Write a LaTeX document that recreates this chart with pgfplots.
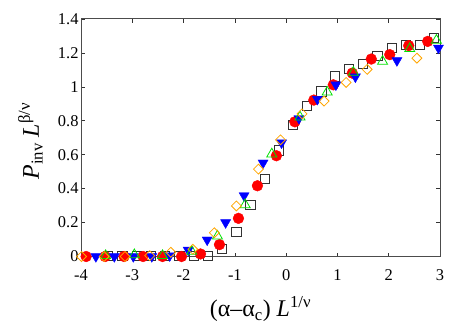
\documentclass[border=0pt]{standalone}
\usepackage{fontspec}
\setmainfont{Liberation Serif}
\usepackage{pgfplots}
\pgfplotsset{compat=1.18}

\definecolor{cred}{RGB}{255,0,0}
\definecolor{cblue}{RGB}{0,0,255}
\definecolor{cgreen}{RGB}{0,225,0}
\definecolor{corange}{RGB}{255,165,0}
\definecolor{csquare}{RGB}{50,50,50}

\begin{document}
\begin{tikzpicture}
\begin{axis}[
  scale only axis,
  width=359bp,
  height=237.5bp,
  xmin=-4, xmax=3,
  ymin=0, ymax=1.4,
  xtick={-4,-3,-2,-1,0,1,2,3},
  xticklabels={-4,-3,-2,-1,0,1,2,3},
  ytick={0,0.2,0.4,0.6,0.8,1,1.2,1.4},
  yticklabels={0,0.2,0.4,0.6,0.8,1,1.2,1.4},
  tick align=inside,
  major tick length=4bp,
  tick style={black!80, line width=0.6bp},
  axis line style={black!70, line width=1bp},
  ticklabel style={font=\fontsize{16.5}{18}\selectfont},
  xticklabel style={yshift=-10bp},
  yticklabel style={xshift=1bp},
  clip=false,
  only marks,
  xlabel={\fontsize{24}{28}\selectfont (α–α\textsubscript{c}) \textit{L}\textsuperscript{1/ν}},
  xlabel style={at={(axis description cs:0.5,-0.253)}, anchor=base},
  ylabel={\fontsize{24}{28}\selectfont \textit{P}\textsubscript{inv} \textit{L}\textsuperscript{β/ν}},
  ylabel style={at={(axis description cs:-0.117,0.486)}, anchor=base},
]
% squares
\addplot[mark=square, mark size=4.7bp, draw=csquare, mark options={line width=0.8bp}] coordinates {
(-3.47,0.003)(-3.19,0.003)(-2.91,0.003)(-2.64,0.003)(-2.36,0.003)(-2.08,0.003)(-1.80,0.003)(-1.53,0.005)
(-1.25,0.045)(-0.97,0.144)(-0.70,0.305)(-0.42,0.458)(-0.14,0.625)(0.13,0.774)(0.41,0.889)(0.69,0.973)
(0.95,1.061)(1.22,1.107)(1.50,1.135)(1.78,1.184)(2.06,1.229)(2.33,1.249)(2.61,1.247)(2.88,1.287)};
% red circles
\addplot[mark=*, mark size=5.4bp, draw=cred, fill=cred] coordinates {
(-3.90,0)(-3.53,0)(-3.16,0)(-2.79,0)(-2.41,0)(-2.04,0)(-1.67,0.015)(-1.30,0.07)(-0.93,0.225)
(-0.56,0.417)(-0.19,0.594)(0.17,0.794)(0.54,0.922)(0.92,1.012)(1.29,1.081)(1.66,1.164)(2.02,1.19)
(2.39,1.243)(2.76,1.268)};
% blue down triangles
\addplot[mark=triangle*, mark size=5.8bp, draw=cblue, fill=cblue, mark options={rotate=180}] coordinates {
(-3.71,0)(-3.35,0)(-2.98,0)(-2.62,0)(-2.27,0.005)(-1.91,0.038)(-1.54,0.098)(-1.18,0.2)(-0.82,0.359)
(-0.45,0.552)(-0.09,0.67)(0.25,0.814)(0.61,0.927)(0.97,1.012)(1.35,1.059)(2.16,1.155)(2.97,1.229)};
% green triangles
\addplot[mark=triangle, mark size=5.8bp, draw=cgreen, mark options={line width=0.8bp}] coordinates {
(-3.52,0.005)(-2.96,0.01)(-2.41,0.005)(-1.84,0.03)(-1.34,0.12)(-0.80,0.305)(-0.28,0.604)(0.27,0.822)
(0.80,0.969)(1.31,1.085)(1.88,1.15)(2.41,1.225)(2.93,1.274)};
% orange diamonds
\addplot[mark=square, mark size=3.5bp, draw=corange, mark options={rotate=45, line width=0.8bp}] coordinates {
(-3.99,0)(-3.55,0)(-3.14,0)(-2.66,0.005)(-2.25,0.025)(-1.82,0.043)(-1.40,0.14)(-0.97,0.298)
(-0.54,0.515)(-0.11,0.688)(0.31,0.841)(0.74,0.916)(1.17,1.026)(1.58,1.103)(2.55,1.169)};
\end{axis}
\path (current axis.south west) ++(-81bp,-67.5bp) rectangle ([xshift=23bp,yshift=19bp]current axis.north east);
\end{tikzpicture}
\end{document}
